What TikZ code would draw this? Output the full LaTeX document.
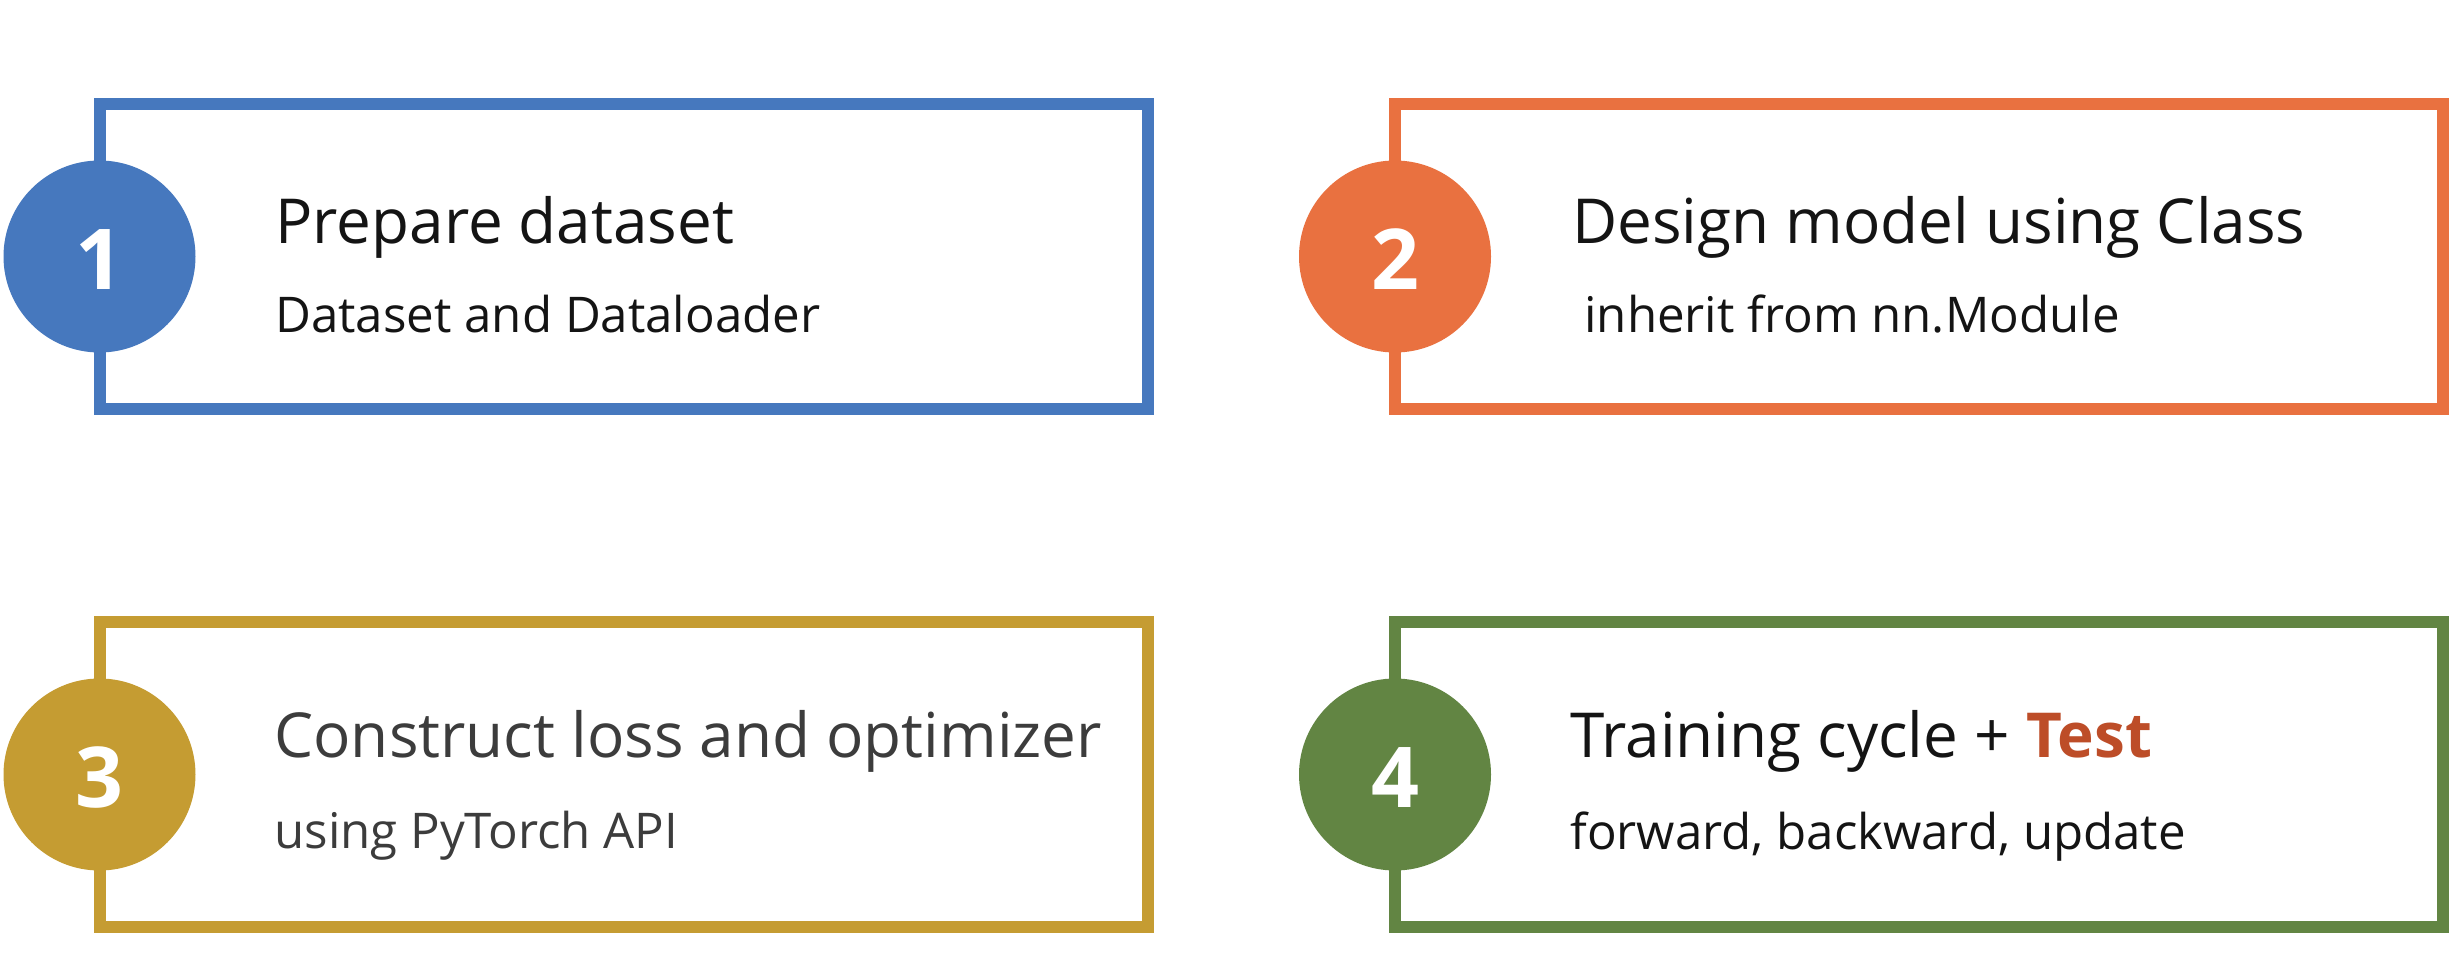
\documentclass[tikz,border=0pt]{standalone}
\usepackage{fontspec}
\setmainfont{Open Sans}
\definecolor{cblue}{HTML}{4678BE}
\definecolor{corange}{HTML}{E97140}
\definecolor{cgold}{HTML}{C59C32}
\definecolor{cgreen}{HTML}{628543}
\definecolor{ctest}{HTML}{BD4D28}
\definecolor{cdark}{HTML}{141414}
\definecolor{cgrey}{HTML}{3C3C3C}
\tikzset{
  framebox/.style={draw=#1, line width=6pt, fill=white, minimum width=524pt, minimum height=152.5pt, inner sep=0pt},
  badge/.style={circle, fill=#1, minimum size=96pt, inner sep=0pt},
  digit/.style={text=white, font=\fontsize{42}{46}\selectfont\bfseries, inner sep=0pt},
  title/.style={anchor=base west, inner sep=0pt, text=cdark, font=\fontsize{31}{36}\selectfont},
  subtitle/.style={anchor=base west, inner sep=0pt, text=cdark, font=\fontsize{24.6}{29}\selectfont}
}
\begin{document}
\begin{tikzpicture}[x=0.5pt,y=-0.5pt]
\useasboundingbox (0,0) rectangle (2462,974);
\fill[white] (0,0) rectangle (2462,974);
% boxes
\node[framebox=cblue] (box1) at (623.5,256.5) {};
\node[framebox=corange] (box2) at (1919,256.5) {};
\node[framebox=cgold] (box3) at (623.5,774.5) {};
\node[framebox=cgreen] (box4) at (1919,774.5) {};
% badges
\node[badge=cblue] (c1) at (99.5,256.5) {};
\node[badge=corange] (c2) at (1395,256.5) {};
\node[badge=cgold] (c3) at (99.5,774.5) {};
\node[badge=cgreen] (c4) at (1395,774.5) {};
\node[digit] (d1) at (99.5,259.5) {1};
\node[digit] (d2) at (1395,259.5) {2};
\node[digit] (d3) at (99.5,777.5) {3};
\node[digit] (d4) at (1395,777.5) {4};
% texts
\node[title] (t1) at (275,243) {Prepare dataset};
\node[subtitle] (s1) at (275,332) {Dataset and Dataloader};
\node[title] (t2) at (1572,243) {Design model using Class};
\node[subtitle] (s2) at (1584,332) {inherit from nn.Module};
\node[title, text=cgrey] (t3) at (274,757) {Construct loss and optimizer};
\node[subtitle, text=cgrey] (s3) at (274,848) {using PyTorch API};
\node[title] (t4) at (1570,757) {Training cycle + \textcolor{ctest}{\bfseries Test}};
\node[subtitle] (s4) at (1570,849) {forward, backward, update};
\end{tikzpicture}
\end{document}
